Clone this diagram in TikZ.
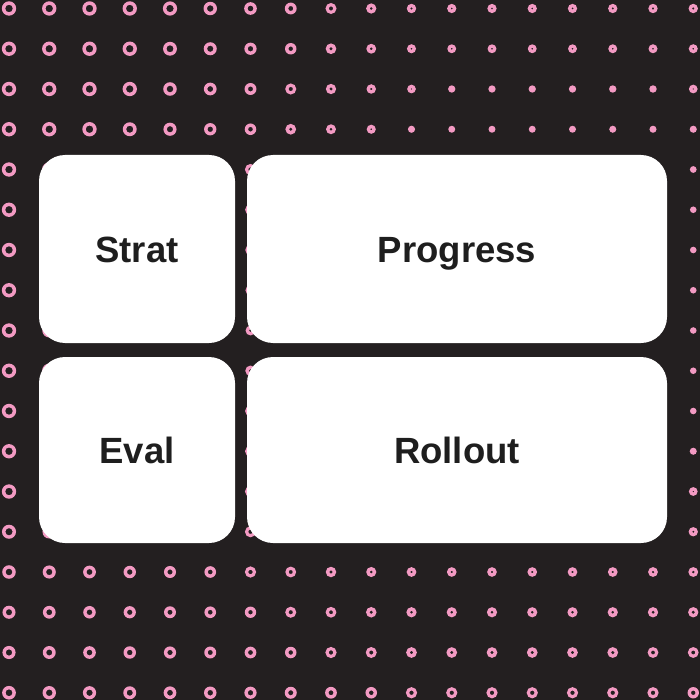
\documentclass[tikz,border=0pt]{standalone}
\usepackage{fontspec}
\setmainfont{Liberation Sans}
\definecolor{bg}{HTML}{231F20}
\definecolor{dotpink}{HTML}{F39AC3}
\definecolor{txt}{HTML}{1E1E1E}
\begin{document}
\begin{tikzpicture}[x=1pt,y=-1pt,
  card/.style={fill=white, rounded corners=26pt, inner sep=0pt,
    font=\fontsize{36.5}{40}\selectfont\bfseries, text=txt,
    text height=26pt, text depth=0pt}]
\fill[bg] (0,0) rectangle (700,700);
\useasboundingbox (0,0) rectangle (700,700);
\foreach \i in {0,...,17}{
 \foreach \j in {0,...,17}{
  \pgfmathsetmacro{\cx}{9+40.25*\i}
  \pgfmathsetmacro{\cy}{8.5+40.25*\j}
  \pgfmathsetmacro{\vv}{min(3.8, 0.9 + max(0.003, 0.01-0.000035*max(0,\cy-400))*max(0,420-\cx) + 0.0006*max(0,\cx-560) + max(0.33-0.0045*(\cy-8), 0.0065*(\cy-490)))}
  \ifdim\vv pt<0.93pt
    \pgfmathsetmacro{\rs}{2.8+max(\vv,0.5)}
    \fill[dotpink] (\cx,\cy) circle[radius=\rs];
  \else
    \pgfmathsetmacro{\ro}{3.4+\vv}
    \fill[dotpink, even odd rule] (\cx,\cy) circle[radius=\ro] (\cx,\cy) circle[radius=\vv];
  \fi
 }}
\node[card, minimum width=196pt, minimum height=188pt] (strat) at (137,249) {Strat};
\node[card, minimum width=420pt, minimum height=188pt] (progress) at (457,249) {Progress};
\node[card, minimum width=196pt, minimum height=186pt] (eval) at (137,450) {Eval};
\node[card, minimum width=420pt, minimum height=186pt] (rollout) at (457,450) {Rollout};
\end{tikzpicture}
\end{document}
